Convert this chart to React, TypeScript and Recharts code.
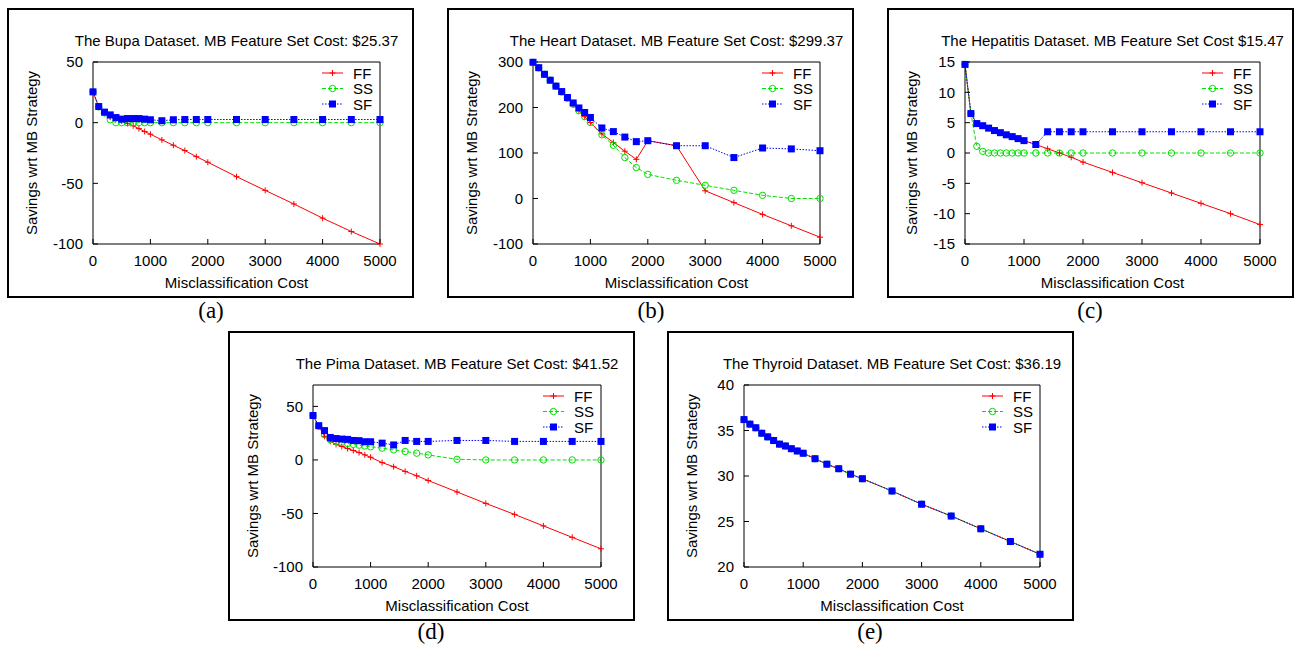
import React from 'react';
import { LineChart, Line, XAxis, YAxis, Legend } from 'recharts';

// ---------- data ----------
const costs = [0, 100, 200, 300, 400, 500, 600, 700, 800, 900, 1000, 1200, 1400, 1600, 1800, 2000, 2500, 3000, 3500, 4000, 4500, 5000];
const xTicks = [0, 1000, 2000, 3000, 4000, 5000];

const bupaFF = [25.4, 13, 8, 4.8, 3, 1.4, -0.6, -2.6, -4.9, -7.3, -9.5, -14.2, -18.6, -23, -28, -32.6, -44.5, -55.8, -67, -78.7, -89.7, -100];
const bupaSS = [25.4, 13, 8, 2.4, 0, 0, 0, 0, 0, 0, 0, 0, 0, 0, 0, 0, 0, 0, 0, 0, 0, 0];
const bupaSF = [25.4, 13.3, 8.7, 6.4, 4.2, 2.9, 3.4, 3.4, 3.4, 2.9, 2.4, 1.6, 2.4, 2.6, 2.6, 2.6, 2.6, 2.6, 2.6, 2.6, 2.6, 2.6];
const bupaYTicks = [-100, -50, 0, 50];

const heartFF = [299.4, 287, 273, 260, 247, 234, 220, 207, 193, 180, 167, 142, 123, 104, 86, 127, 116, 17, -9, -35, -60, -85];
const heartSS = [299.4, 287, 273, 260, 247, 234, 220, 207, 193, 180, 167, 140, 117, 90, 68, 53, 40, 29, 18, 7, 0, 0];
const heartSF = [299.4, 287.5, 273, 260, 247, 235, 222, 210, 199, 189, 178, 155, 147, 135, 125, 127, 116, 116, 90, 111, 109, 105];
const heartYTicks = [-100, 0, 100, 200, 300];

const hepFF = [14.6, 6.5, 4.85, 4.5, 4.1, 3.7, 3.35, 3.0, 2.7, 2.37, 2.04, 1.4, 0.7, 0, -0.7, -1.5, -3.2, -4.9, -6.6, -8.3, -10.0, -11.8];
const hepSS = [14.6, 6.5, 1.1, 0.27, 0, 0, 0, 0, 0, 0, 0, 0, 0, 0, 0, 0, 0, 0, 0, 0, 0, 0];
const hepSF = [14.6, 6.5, 4.85, 4.5, 4.1, 3.7, 3.35, 3.0, 2.7, 2.37, 2.04, 1.4, 3.5, 3.5, 3.5, 3.5, 3.5, 3.5, 3.5, 3.5, 3.5, 3.5];
const hepYTicks = [-15, -10, -5, 0, 5, 10, 15];

const pimaFF = [41.5, 31.5, 22, 17.3, 14.5, 12.6, 10.7, 8.8, 6.9, 4.7, 2.5, -2.5, -6.3, -10.7, -14.8, -19.2, -29.9, -40.6, -50.9, -61.6, -72.3, -83];
const pimaSS = [41.5, 31.5, 23.6, 19, 17.3, 16.4, 15.4, 14.5, 13.8, 13, 12.3, 11, 9.4, 7.9, 6.3, 4.7, 0.6, 0, 0, 0, 0, 0];
const pimaSF = [41.5, 32, 27.4, 21, 20, 19.5, 19.2, 18.2, 18, 17, 17, 15.7, 14, 18.2, 17.3, 17.3, 18.2, 18.2, 17.3, 17.3, 17.3, 17.3];
const pimaYTicks = [-100, -50, 0, 50];

const thyFF = [36.2, 35.7, 35.3, 34.7, 34.3, 33.9, 33.5, 33.3, 33.0, 32.75, 32.5, 31.9, 31.3, 30.8, 30.2, 29.7, 28.35, 26.9, 25.6, 24.2, 22.8, 21.4];
const thySS = [36.2, 35.7, 35.3, 34.7, 34.3, 33.9, 33.5, 33.3, 33.0, 32.75, 32.5, 31.9, 31.3, 30.8, 30.2, 29.7, 28.35, 26.9, 25.6, 24.2, 22.8, 21.4];
const thySF = [36.2, 35.7, 35.3, 34.7, 34.3, 33.9, 33.5, 33.3, 33.0, 32.75, 32.5, 31.9, 31.3, 30.8, 30.2, 29.7, 28.35, 26.9, 25.6, 24.2, 22.8, 21.4];
const thyYTicks = [20, 25, 30, 35, 40];

// ---------- style ----------
const RED = '#ff0000';
const GREEN = '#00e000';
const BLUE = '#0000ff';
const SANS = '"Liberation Sans", Arial, Helvetica, sans-serif';
const SERIF = '"Liberation Serif", "Times New Roman", Times, serif';
const W = 407;
const H = 290;
const TOPH = 54;
const BOTH = 54;
const RIGHTW = 34;
const FS = 15;

const plusPath = (cx: number, cy: number, r = 3) => `M${cx - r},${cy}H${cx + r}M${cx},${cy - r}V${cy + r}`;

const FFDot = (p: any) =>
  p.cx == null || p.cy == null ? <g key={`ff-${p.index}`} /> : (
    <path key={`ff-${p.index}`} d={plusPath(p.cx, p.cy)} stroke={RED} strokeWidth={1} fill="none" />
  );
const SSDot = (p: any) =>
  p.cx == null || p.cy == null ? <g key={`ss-${p.index}`} /> : (
    <circle key={`ss-${p.index}`} cx={p.cx} cy={p.cy} r={3.2} stroke={GREEN} strokeWidth={1} fill="none" />
  );
const SFDot = (p: any) =>
  p.cx == null || p.cy == null ? <g key={`sf-${p.index}`} /> : (
    <rect key={`sf-${p.index}`} x={p.cx - 3.5} y={p.cy - 3.5} width={7} height={7} fill={BLUE} />
  );

const LegendBox = () => {
  const rows = [
    { name: 'FF', y: 8, color: RED, dash: undefined as string | undefined, kind: 'plus' },
    { name: 'SS', y: 23.5, color: GREEN, dash: '4 2', kind: 'circle' },
    { name: 'SF', y: 39, color: BLUE, dash: '1.5 1.5', kind: 'square' },
  ];
  return (
    <svg width={62} height={48} style={{ display: 'block', overflow: 'visible' }}>
      {rows.map((r) => (
        <g key={r.name}>
          <line x1={3} x2={24} y1={r.y} y2={r.y} stroke={r.color} strokeWidth={1} strokeDasharray={r.dash} />
          {r.kind === 'plus' && <path d={plusPath(13.5, r.y)} stroke={r.color} fill="none" />}
          {r.kind === 'circle' && <circle cx={13.5} cy={r.y} r={3.2} stroke={r.color} fill="none" />}
          {r.kind === 'square' && <rect x={10} y={r.y - 3.5} width={7} height={7} fill={r.color} />}
          <text x={34} y={r.y} dominantBaseline="central" fontSize={FS} fontFamily={SANS} fill="#000">
            {r.name}
          </text>
        </g>
      ))}
    </svg>
  );
};

const TitleLabel = (props: any) => {
  const cx = (props.plotLeft + (W - RIGHTW)) / 2;
  return (
    <text x={cx} y={32} textAnchor="middle" dominantBaseline="central" fontSize={FS} fontFamily={SANS} fill="#000">
      {props.text}
    </text>
  );
};
const XTitle = (props: any) => {
  const cx = (props.plotLeft + (W - RIGHTW)) / 2;
  return (
    <text x={cx} y={H - BOTH + 38} textAnchor="middle" dominantBaseline="central" fontSize={FS} fontFamily={SANS} fill="#000">
      Misclassification Cost
    </text>
  );
};
const YTitle = () => (
  <text
    transform={`translate(24,${(TOPH + H - BOTH) / 2}) rotate(-90)`}
    textAnchor="middle"
    dominantBaseline="central"
    fontSize={FS}
    fontFamily={SANS}
    fill="#000"
  >
    Savings wrt MB Strategy
  </text>
);

type PanelProps = {
  left: number;
  top: number;
  plotLeft: number;
  title: string;
  ff: number[];
  ss: number[];
  sf: number[];
  domain: [number, number];
  yTicks: number[];
};

const tickStyle = { fontSize: FS, fill: '#000', fontFamily: SANS };

const Panel = ({ left, top, plotLeft, title, ff, ss, sf, domain, yTicks }: PanelProps) => {
  const data = costs.map((x, i) => ({ x, ff: ff[i], ss: ss[i], sf: sf[i] }));
  return (
    <div
      style={{
        position: 'absolute',
        left,
        top,
        width: W,
        height: H,
        border: '2px solid #000',
        boxSizing: 'border-box',
      }}
    >
      <div style={{ position: 'absolute', left: -2, top: -2 }}>
        <LineChart width={W} height={H} data={data} margin={{ top: 0, right: 0, bottom: 0, left: 0 }}>
          <XAxis
            xAxisId="b"
            dataKey="x"
            type="number"
            domain={[0, 5000]}
            ticks={xTicks}
            interval={0}
            orientation="bottom"
            height={BOTH}
            tickSize={-5}
            tickMargin={16}
            tick={tickStyle}
            stroke="#000"
            label={<XTitle plotLeft={plotLeft} />}
          />
          <XAxis
            xAxisId="t"
            dataKey="x"
            type="number"
            domain={[0, 5000]}
            ticks={xTicks}
            interval={0}
            orientation="top"
            height={TOPH}
            tickSize={-5}
            tick={false}
            stroke="#000"
            label={<TitleLabel plotLeft={plotLeft} text={title} />}
          />
          <YAxis
            yAxisId="l"
            type="number"
            domain={domain}
            ticks={yTicks}
            interval={0}
            orientation="left"
            width={plotLeft}
            tickSize={-5}
            tickMargin={15}
            tick={tickStyle}
            stroke="#000"
            label={<YTitle />}
          />
          <YAxis
            yAxisId="r"
            type="number"
            domain={domain}
            ticks={yTicks}
            interval={0}
            orientation="right"
            width={RIGHTW}
            tickSize={-5}
            tick={false}
            stroke="#000"
          />
          <Legend
            layout="vertical"
            align="center"
            verticalAlign="middle"
            wrapperStyle={{ left: 312, top: 57, width: 62, height: 48 }}
            content={() => <LegendBox />}
          />
          <Line
            xAxisId="b"
            yAxisId="l"
            type="linear"
            dataKey="ff"
            name="FF"
            stroke={RED}
            strokeWidth={1}
            dot={FFDot}
            activeDot={false}
            isAnimationActive={false}
          />
          <Line
            xAxisId="b"
            yAxisId="l"
            type="linear"
            dataKey="ss"
            name="SS"
            stroke={GREEN}
            strokeWidth={1}
            strokeDasharray="4 2"
            dot={SSDot}
            activeDot={false}
            isAnimationActive={false}
          />
          <Line
            xAxisId="b"
            yAxisId="l"
            type="linear"
            dataKey="sf"
            name="SF"
            stroke={BLUE}
            strokeWidth={1}
            strokeDasharray="1.5 1.5"
            dot={SFDot}
            activeDot={false}
            isAnimationActive={false}
          />
        </LineChart>
      </div>
    </div>
  );
};

const Caption = ({ text, cx, top }: { text: string; cx: number; top: number }) => (
  <div
    style={{
      position: 'absolute',
      left: cx - 40,
      top,
      width: 80,
      textAlign: 'center',
      fontFamily: SERIF,
      fontSize: 23,
      lineHeight: '26px',
      color: '#000',
    }}
  >
    {text}
  </div>
);

export default function App() {
  return (
    <div style={{ position: 'absolute', left: 0, top: 0, width: 1294, height: 650, background: '#fff' }}>
      <Panel left={7} top={8} plotLeft={86} title="The Bupa Dataset. MB Feature Set Cost: $25.37" ff={bupaFF} ss={bupaSS} sf={bupaSF} domain={[-100, 50]} yTicks={bupaYTicks} />
      <Panel left={447} top={8} plotLeft={86} title="The Heart Dataset. MB Feature Set Cost: $299.37" ff={heartFF} ss={heartSS} sf={heartSF} domain={[-100, 300]} yTicks={heartYTicks} />
      <Panel left={887} top={8} plotLeft={78} title="The Hepatitis Dataset. MB Feature Set Cost $15.47" ff={hepFF} ss={hepSS} sf={hepSF} domain={[-15, 15]} yTicks={hepYTicks} />
      <Panel left={228} top={331} plotLeft={85} title="The Pima Dataset. MB Feature Set Cost: $41.52" ff={pimaFF} ss={pimaSS} sf={pimaSF} domain={[-100, 70]} yTicks={pimaYTicks} />
      <Panel left={667} top={331} plotLeft={77} title="The Thyroid Dataset. MB Feature Set Cost: $36.19" ff={thyFF} ss={thySS} sf={thySF} domain={[20, 40]} yTicks={thyYTicks} />
      <Caption text="(a)" cx={211} top={298} />
      <Caption text="(b)" cx={651} top={298} />
      <Caption text="(c)" cx={1090} top={298} />
      <Caption text="(d)" cx={431} top={619} />
      <Caption text="(e)" cx={870} top={619} />
    </div>
  );
}
